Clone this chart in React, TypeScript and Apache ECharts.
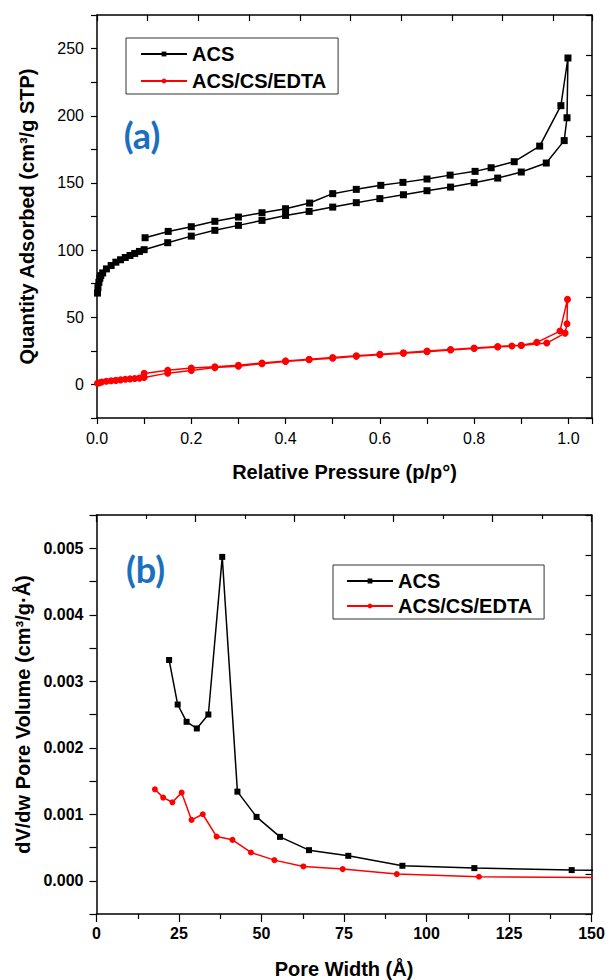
import React, { useEffect, useRef } from "react";
import * as echarts from "echarts";

// ---------- (a) N2 isotherms ----------
const acsAdsP = [0.001, 0.002, 0.004, 0.006, 0.008, 0.012, 0.02, 0.03, 0.04, 0.05, 0.06, 0.07, 0.08, 0.09, 0.1, 0.15, 0.2, 0.25, 0.3, 0.35, 0.4, 0.45, 0.5, 0.55, 0.6, 0.65, 0.7, 0.75, 0.8, 0.85, 0.9, 0.953, 0.991, 0.997, 0.999];
const acsAdsQ = [68, 72, 76, 79, 81, 83, 86, 88.5, 91, 92.8, 94.5, 96, 97.5, 99, 100.3, 105.5, 110.4, 114.7, 118.4, 122.1, 125.8, 128.8, 132, 135.3, 138.3, 141.2, 144.2, 146.9, 150.2, 153.6, 158.1, 164.8, 181.5, 198.5, 243];
const acsDesP = [0.984, 0.939, 0.885, 0.836, 0.802, 0.749, 0.7, 0.649, 0.602, 0.55, 0.5, 0.451, 0.4, 0.35, 0.3, 0.25, 0.2, 0.151, 0.102];
const acsDesQ = [207.5, 177.4, 165.8, 161.3, 158.6, 155.8, 152.9, 150.4, 148.2, 145.2, 142, 135, 130.8, 127.8, 124.6, 121.4, 117.4, 113.9, 109.2];

const edtaAdsP = [0.001, 0.005, 0.01, 0.02, 0.03, 0.04, 0.05, 0.06, 0.07, 0.08, 0.09, 0.1, 0.15, 0.2, 0.25, 0.3, 0.35, 0.4, 0.45, 0.5, 0.55, 0.6, 0.65, 0.7, 0.75, 0.8, 0.85, 0.88, 0.9, 0.954, 0.993, 0.997, 0.998];
const edtaAdsQ = [0.8, 1.3, 1.8, 2.4, 2.7, 3.0, 3.4, 3.8, 4.1, 4.4, 4.7, 5.1, 8.4, 10.4, 12.5, 13.6, 15.4, 17.0, 18.3, 19.5, 20.9, 22.1, 23.2, 24.4, 25.6, 26.7, 27.8, 28.6, 29.0, 30.8, 38.2, 45.2, 63.3];
const edtaDesP = [0.982, 0.933, 0.9, 0.85, 0.8, 0.75, 0.7, 0.65, 0.6, 0.55, 0.5, 0.45, 0.4, 0.35, 0.3, 0.25, 0.2, 0.15, 0.1];
const edtaDesQ = [39.7, 31.3, 29.2, 28.2, 27.1, 26.0, 24.8, 23.5, 22.5, 21.3, 20.0, 18.8, 17.5, 16.0, 14.2, 13.1, 12.2, 10.5, 8.2];

// ---------- (b) pore size distribution ----------
const acsWidth = [22.0, 24.6, 27.3, 30.4, 33.9, 38.1, 42.7, 48.5, 55.6, 64.4, 76.3, 92.7, 114.5, 144, 180];
const acsVol = [0.00332, 0.00265, 0.00239, 0.00229, 0.0025, 0.00487, 0.00134, 0.00096, 0.00066, 0.00046, 0.000375, 0.000225, 0.00019, 0.00016, 0.000152];
const edtaWidth = [17.7, 20.2, 23.0, 25.8, 28.8, 32.2, 36.4, 41.2, 46.8, 53.9, 62.7, 74.6, 91.0, 115.9, 180];
const edtaVol = [0.001375, 0.00125, 0.00118, 0.001325, 0.000915, 0.001, 0.000665, 0.000615, 0.000425, 0.00031, 0.000215, 0.000175, 0.0001, 0.00006, 0.000042];

const seriesNames = ["ACS", "ACS/CS/EDTA"];
const FONT = '"Liberation Sans", Arial, sans-serif';
const BLACK = "#000000";
const RED = "#ff0000";
const BLUE = "#1a6fbf";

const zip = (xs: number[], ys: number[]) => xs.map((x, i) => [x, ys[i]]);

export default function App() {
  const ref = useRef<HTMLDivElement>(null);
  useEffect(() => {
    document.body.style.margin = "0";
    if (!ref.current) return;
    const chart = echarts.init(ref.current, null, { renderer: "svg" });

    const axisLine = { show: true, onZero: false, lineStyle: { color: BLACK, width: 1.5 } };
    const nameStyle = { fontSize: 20, fontWeight: "bold", color: BLACK, fontFamily: FONT };
    const decoAxis = (extra: any) => ({
      type: "value",
      axisLine,
      axisLabel: { show: false },
      splitLine: { show: false },
      ...extra,
    });

    const legendBase = {
      data: seriesNames,
      orient: "vertical",
      itemWidth: 46,
      itemHeight: 6,
      selectedMode: false,
      borderColor: "#333",
      borderWidth: 1,
      backgroundColor: "#fff",
      textStyle: { fontSize: 20, fontWeight: "bold", color: BLACK, fontFamily: FONT, lineHeight: 20 },
    };

    chart.setOption({
      animation: false,
      backgroundColor: "#ffffff",
      grid: [
        { left: 97, top: 15, width: 495, height: 403 },
        { left: 96.5, top: 515, width: 495, height: 399 },
      ],
      legend: [
        { ...legendBase, left: 126, top: 38, itemGap: 7, padding: [6, 12, 3, 14] },
        { ...legendBase, left: 333, top: 565, itemGap: 5, padding: [6, 12, 3, 13] },
      ],
      xAxis: [
        {
          gridIndex: 0,
          type: "value",
          position: "bottom",
          min: 0,
          max: 1.05,
          interval: 0.1,
          axisLine,
          axisTick: { show: true, length: 6, lineStyle: { color: BLACK, width: 1.2 } },
          axisLabel: {
            fontSize: 16,
            color: BLACK,
            fontFamily: FONT,
            margin: 12,
            formatter: (v: number) => {
              const k = Math.round(v * 10);
              if (Math.abs(v * 10 - k) > 1e-6 || k % 2 !== 0) return "";
              return (k / 10).toFixed(1);
            },
          },
          splitLine: { show: false },
          name: "Relative Pressure (p/p°)",
          nameLocation: "middle",
          nameGap: 44,
          nameTextStyle: nameStyle,
        },
        decoAxis({
          gridIndex: 0,
          position: "top",
          min: 0,
          max: 9.76,
          interval: 1,
          axisTick: { show: true, inside: true, length: 6, lineStyle: { color: BLACK, width: 1.2 } },
        }),
        {
          gridIndex: 1,
          type: "value",
          position: "bottom",
          min: 0,
          max: 150,
          interval: 25,
          axisLine,
          axisTick: { show: true, length: 8, lineStyle: { color: BLACK, width: 1.2 } },
          minorTick: { show: true, splitNumber: 2, length: 5, lineStyle: { color: BLACK, width: 1.2 } },
          axisLabel: { fontSize: 16, fontWeight: "bold", color: BLACK, fontFamily: FONT, margin: 11 },
          splitLine: { show: false },
          minorSplitLine: { show: false },
          name: "Pore Width (Å)",
          nameLocation: "middle",
          nameGap: 45,
          nameTextStyle: nameStyle,
        },
        decoAxis({
          gridIndex: 1,
          position: "top",
          min: 0,
          max: 10,
          interval: 2,
          axisTick: { show: true, inside: true, length: 7, lineStyle: { color: BLACK, width: 1.2 } },
          minorTick: { show: true, splitNumber: 2, length: 4, lineStyle: { color: BLACK, width: 1.2 } },
          minorSplitLine: { show: false },
        }),
      ],
      yAxis: [
        {
          gridIndex: 0,
          type: "value",
          position: "left",
          min: -25,
          max: 275,
          interval: 25,
          axisLine,
          axisTick: { show: true, length: 6, lineStyle: { color: BLACK, width: 1.2 } },
          axisLabel: {
            fontSize: 16,
            color: BLACK,
            fontFamily: FONT,
            margin: 13,
            formatter: (v: number) => (Math.round(v) % 50 === 0 ? String(Math.round(v)) : ""),
          },
          splitLine: { show: false },
          name: "Quantity Adsorbed (cm³/g STP)",
          nameLocation: "middle",
          nameGap: 60,
          nameTextStyle: nameStyle,
        },
        decoAxis({
          gridIndex: 0,
          position: "right",
          min: 0,
          max: 10,
          interval: 1,
          axisTick: { show: true, inside: true, length: 6, lineStyle: { color: BLACK, width: 1.2 } },
        }),
        {
          gridIndex: 1,
          type: "value",
          position: "left",
          min: -0.0005,
          max: 0.0055,
          interval: 0.0005,
          axisLine,
          axisTick: { show: true, length: 7, lineStyle: { color: BLACK, width: 1.2 } },
          axisLabel: {
            fontSize: 16,
            fontWeight: "bold",
            color: BLACK,
            fontFamily: FONT,
            margin: 13,
            formatter: (v: number) => {
              const k = Math.round(v * 10000);
              return k % 10 === 0 ? (k / 10000).toFixed(3) : "";
            },
          },
          splitLine: { show: false },
          name: "dV/dw Pore Volume (cm³/g·Å)",
          nameLocation: "middle",
          nameGap: 60,
          nameTextStyle: nameStyle,
        },
        decoAxis({
          gridIndex: 1,
          position: "right",
          min: 0,
          max: 10,
          interval: 1,
          axisTick: { show: true, inside: true, length: 6, lineStyle: { color: BLACK, width: 1.2 } },
        }),
      ],
      series: [
        {
          name: seriesNames[0],
          type: "line",
          xAxisIndex: 0,
          yAxisIndex: 0,
          data: zip(acsAdsP.concat(acsDesP), acsAdsQ.concat(acsDesQ)),
          symbol: "rect",
          symbolSize: 7,
          lineStyle: { color: BLACK, width: 1.5 },
          itemStyle: { color: BLACK },
          clip: true,
        },
        {
          name: seriesNames[1],
          type: "line",
          xAxisIndex: 0,
          yAxisIndex: 0,
          data: zip(edtaAdsP.concat(edtaDesP), edtaAdsQ.concat(edtaDesQ)),
          symbol: "circle",
          symbolSize: 7,
          lineStyle: { color: RED, width: 1.5 },
          itemStyle: { color: RED },
          clip: true,
        },
        {
          name: seriesNames[0],
          type: "line",
          xAxisIndex: 2,
          yAxisIndex: 2,
          data: zip(acsWidth, acsVol),
          symbol: "rect",
          symbolSize: 6,
          lineStyle: { color: BLACK, width: 1.5 },
          itemStyle: { color: BLACK },
          clip: true,
        },
        {
          name: seriesNames[1],
          type: "line",
          xAxisIndex: 2,
          yAxisIndex: 2,
          data: zip(edtaWidth, edtaVol),
          symbol: "circle",
          symbolSize: 6,
          lineStyle: { color: RED, width: 1.5 },
          itemStyle: { color: RED },
          clip: true,
        },
      ],
      graphic: [
        {
          type: "text",
          x: 142,
          y: 135,
          style: { text: "(a)", font: "bold 36px Lato, sans-serif", fill: BLUE, textAlign: "center", textVerticalAlign: "middle" },
        },
        {
          type: "text",
          x: 145.5,
          y: 569,
          style: { text: "(b)", font: "bold 36px Lato, sans-serif", fill: BLUE, textAlign: "center", textVerticalAlign: "middle" },
        },
      ],
    });
    return () => chart.dispose();
  }, []);
  return <div ref={ref} style={{ width: 609, height: 980 }} />;
}
